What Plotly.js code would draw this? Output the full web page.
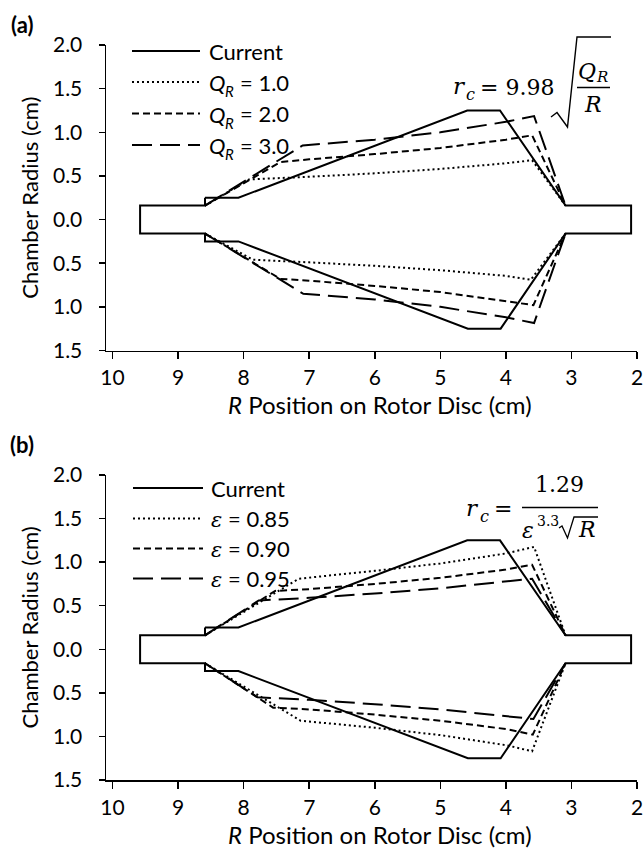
<!DOCTYPE html>
<html><head><meta charset="utf-8">
<script src="https://cdn.plot.ly/plotly-3.0.1.min.js"></script>
<style>html,body{margin:0;padding:0;background:#fff}</style>
</head><body><div id="chart" style="width:644px;height:850px"></div>
<script>
// ---------- DATA ----------
var xTickVals = [10, 9, 8, 7, 6, 5, 4, 3, 2];
var yTickVals = [-1.5, -1.0, -0.5, 0.0, 0.5, 1.0, 1.5, 2.0];
var yTickText = ['1.5', '1.0', '0.5', '0.0', '0.5', '1.0', '1.5', '2.0'];

// current chamber outline (same in both panels)
var currentX = [8.59, 8.59, 9.58, 9.58, 8.59, 8.59, 8.08, 4.58, 4.08, 3.09, 2.09, 2.09, 3.09, 4.09, 4.59, 8.08, 8.59];
var currentY = [0.25, 0.16, 0.16, -0.16, -0.16, -0.25, -0.25, -1.25, -1.25, -0.16, -0.16, 0.16, 0.16, 1.25, 1.25, 0.25, 0.25];

// panel (a): Q_R series (upper and lower walls)
var q1TopX = [8.59, 7.92, 7.0, 6.0, 5.0, 4.0, 3.60, 3.09];
var q1TopY = [0.16, 0.46, 0.49, 0.53, 0.58, 0.645, 0.68, 0.16];
var q1BotX = [8.59, 7.86, 7.0, 6.0, 5.0, 4.0, 3.62, 3.09];
var q1BotY = [-0.16, -0.46, -0.49, -0.53, -0.58, -0.645, -0.69, -0.16];

var q2TopX = [8.59, 7.44, 7.0, 6.0, 5.0, 4.0, 3.60, 3.09];
var q2TopY = [0.16, 0.66, 0.69, 0.75, 0.82, 0.915, 0.965, 0.16];
var q2BotX = [8.59, 7.44, 7.0, 6.0, 5.0, 4.0, 3.58, 3.09];
var q2BotY = [-0.16, -0.68, -0.70, -0.76, -0.83, -0.93, -0.98, -0.16];

var q3TopX = [8.59, 7.10, 6.0, 5.0, 4.0, 3.57, 3.09];
var q3TopY = [0.16, 0.85, 0.915, 1.0, 1.12, 1.185, 0.16];
var q3BotX = [8.59, 7.09, 6.0, 5.0, 4.0, 3.57, 3.09];
var q3BotY = [-0.16, -0.85, -0.915, -1.0, -1.12, -1.185, -0.16];

// panel (b): epsilon series
var e85TopX = [8.59, 7.16, 6.0, 5.0, 4.0, 3.57, 3.09];
var e85TopY = [0.16, 0.81, 0.90, 0.985, 1.10, 1.175, 0.16];
var e85BotX = [8.59, 7.13, 6.0, 5.0, 4.0, 3.60, 3.09];
var e85BotY = [-0.16, -0.82, -0.90, -0.985, -1.10, -1.17, -0.16];

var e90TopX = [8.59, 7.52, 7.0, 6.0, 5.0, 4.0, 3.60, 3.09];
var e90TopY = [0.16, 0.67, 0.69, 0.75, 0.82, 0.915, 0.97, 0.16];
var e90BotX = [8.59, 7.55, 7.0, 6.0, 5.0, 4.0, 3.59, 3.09];
var e90BotY = [-0.16, -0.67, -0.69, -0.75, -0.82, -0.915, -0.98, -0.16];

var e95TopX = [8.59, 7.77, 7.0, 6.0, 5.0, 4.0, 3.60, 3.09];
var e95TopY = [0.16, 0.56, 0.59, 0.64, 0.70, 0.775, 0.81, 0.16];
var e95BotX = [8.59, 7.79, 7.0, 6.0, 5.0, 4.0, 3.58, 3.09];
var e95BotY = [-0.16, -0.55, -0.58, -0.63, -0.69, -0.765, -0.80, -0.16];

// legend labels
var legendQValues = ['1.0', '2.0', '3.0'];
var legendEValues = ['0.85', '0.90', '0.95'];

// ---------- STYLE / LAYOUT ----------
var dashes = ['solid', '2px,3px', '7px,4px', '20px,8px'];
var LW = 2;
var SANS = 'Lato, "Open Sans", sans-serif';
var SERIF = '"DejaVu Serif", "Liberation Serif", serif';
var ML = 106, MR = 7, MT = 45, MB = 70, W = 644, H = 850;
var PW = W - ML - MR, PH = H - MT - MB;
function px(x) { return (x - ML) / PW; }
function py(y) { return (H - MB - y) / PH; }

function joinSeg(a, b) { return a.concat([null], b); }

function tr(x, y, dash, xa, ya, name) {
  return {x: x, y: y, type: 'scatter', mode: 'lines', name: name, xaxis: xa, yaxis: ya,
    showlegend: false, connectgaps: false, hoverinfo: 'skip',
    line: {color: '#000', width: LW, dash: dash}};
}

var data = [
  tr(currentX, currentY, dashes[0], 'x', 'y', 'Current'),
  tr(joinSeg(q1TopX, q1BotX), joinSeg(q1TopY, q1BotY), dashes[1], 'x', 'y', 'Q_R = 1.0'),
  tr(joinSeg(q2TopX, q2BotX), joinSeg(q2TopY, q2BotY), dashes[2], 'x', 'y', 'Q_R = 2.0'),
  tr(joinSeg(q3TopX, q3BotX), joinSeg(q3TopY, q3BotY), dashes[3], 'x', 'y', 'Q_R = 3.0'),
  tr(currentX, currentY, dashes[0], 'x2', 'y2', 'Current'),
  tr(joinSeg(e85TopX, e85BotX), joinSeg(e85TopY, e85BotY), dashes[1], 'x2', 'y2', 'ε = 0.85'),
  tr(joinSeg(e90TopX, e90BotX), joinSeg(e90TopY, e90BotY), dashes[2], 'x2', 'y2', 'ε = 0.90'),
  tr(joinSeg(e95TopX, e95BotX), joinSeg(e95TopY, e95BotY), dashes[3], 'x2', 'y2', 'ε = 0.95')
];

function xAxis(anchor) {
  return {anchor: anchor, domain: [0, 1], range: [10.1, 2], tickvals: xTickVals,
    ticks: 'outside', ticklen: 7, tickwidth: 1.5, tickcolor: '#000',
    showline: true, linewidth: 1.5, linecolor: '#000', showgrid: false, zeroline: false,
    ticklabelstandoff: 1,
    tickfont: {family: SANS, size: 21, color: '#000'}};
}
function yAxis(anchor, dom) {
  return {anchor: anchor, domain: dom, range: [-1.5, 2.0], tickvals: yTickVals, ticktext: yTickText,
    ticks: 'outside', ticklen: 6, tickwidth: 1.5, tickcolor: '#000',
    showline: true, linewidth: 1.5, linecolor: '#000', showgrid: false, zeroline: false,
    ticklabelstandoff: 12,
    tickfont: {family: SANS, size: 21, color: '#000'},
    title: {text: 'Chamber Radius (cm)', font: {family: SANS, size: 22, color: '#000'}, standoff: 8}};
}

var shapes = [], annotations = [];
function txt(text, x, y, size, fam, xanchor) {
  annotations.push({xref: 'paper', yref: 'paper', x: px(x), y: py(y), xanchor: xanchor || 'center', yanchor: 'middle',
    text: text, showarrow: false, font: {family: fam || SERIF, size: size || 22, color: '#000'}});
}
function seg(x0, y0, x1, y1, w, dash) {
  shapes.push({type: 'line', xref: 'paper', yref: 'paper', x0: px(x0), y0: py(y0), x1: px(x1), y1: py(y1),
    line: {color: '#000', width: w || 1.3, dash: dash || 'solid'}});
}
function pathShape(pts, w) {
  var d = 'M' + pts.map(function (p) { return px(p[0]) + ',' + py(p[1]); }).join(' L');
  shapes.push({type: 'path', xref: 'paper', yref: 'paper', path: d, line: {color: '#000', width: w || 1.3}});
}

// legend (a)
var rowsA = [51, 82, 113.5, 145];
for (var i = 0; i < 4; i++) seg(132, rowsA[i], 200, rowsA[i], LW, dashes[i]);
txt('Current', 207, rowsA[0] + 0.5, 22, SANS, 'left');
for (i = 0; i < 3; i++) {
  txt('<i>Q</i>', 207, rowsA[i + 1] + 0.5, 22, SANS, 'left');
  txt('<i>R</i>', 223, rowsA[i + 1] + 9, 15, SANS, 'left');
  txt('= ' + legendQValues[i], 238, rowsA[i + 1], 22, SANS, 'left');
}
// legend (b)
var rowsB = [488, 518.5, 548.5, 578.5];
for (i = 0; i < 4; i++) seg(133, rowsB[i], 203, rowsB[i], LW, dashes[i]);
txt('Current', 209, rowsB[0] + 0.5, 22, SANS, 'left');
for (i = 0; i < 3; i++) {
  txt('<i>ε</i>', 209, rowsB[i + 1] + 1, 21, SERIF, 'left');
  txt('= ' + legendEValues[i], 226, rowsB[i + 1], 22, SANS, 'left');
}

// panel labels
txt('<b>(a)</b>', 22, 24, 22, SANS);
txt('<b>(b)</b>', 22, 445, 22, SANS);
// x axis titles
txt('<i>R</i> Position on Rotor Disc (cm)', 380, 404, 24, SANS);
txt('<i>R</i> Position on Rotor Disc (cm)', 380, 834, 24, SANS);

// formula (a): r_c = 9.98 sqrt(Q_R / R)
txt('<i>r</i>', 451, 86, 23, SERIF, 'left');
txt('<i>c</i>', 464, 95, 16, SERIF, 'left');
txt('= 9.98', 478, 87, 22, SERIF, 'left');
txt('<i>Q</i>', 587, 71, 22, SERIF);
txt('<i>R</i>', 602, 77, 15, SERIF);
txt('<i>R</i>', 593, 104, 22, SERIF);
seg(577, 87.5, 610, 87.5, 1.3);
pathShape([[551, 117], [557, 112.5], [567.5, 127], [577, 37], [611, 37]], 1.4);

// formula (b): r_c = 1.29 / (eps^3.3 sqrt(R))
txt('1.29', 559, 484, 22, SERIF);
seg(522, 507.5, 598, 507.5, 1.3);
txt('<i>r</i>', 464, 508, 23, SERIF, 'left');
txt('<i>c</i>', 478, 516, 16, SERIF, 'left');
txt('=', 503, 508, 22, SERIF);
txt('<i>ε</i>', 528, 530, 22, SERIF);
txt('3.3', 548, 521, 14, SERIF);
txt('<i>R</i>', 587, 529, 22, SERIF);
pathShape([[559, 528], [562, 526], [567.5, 538], [574, 517], [598, 517]], 1.3);

var layout = {
  width: W, height: H, margin: {l: ML, r: MR, t: MT, b: MB},
  paper_bgcolor: '#fff', plot_bgcolor: '#fff', showlegend: false,
  xaxis: xAxis('y'), yaxis: yAxis('x', [py(350.5), 1]),
  xaxis2: xAxis('y2'), yaxis2: yAxis('x2', [0, py(475)]),
  shapes: shapes, annotations: annotations
};
Plotly.newPlot('chart', data, layout, {staticPlot: true, displayModeBar: false});
</script></body></html>
